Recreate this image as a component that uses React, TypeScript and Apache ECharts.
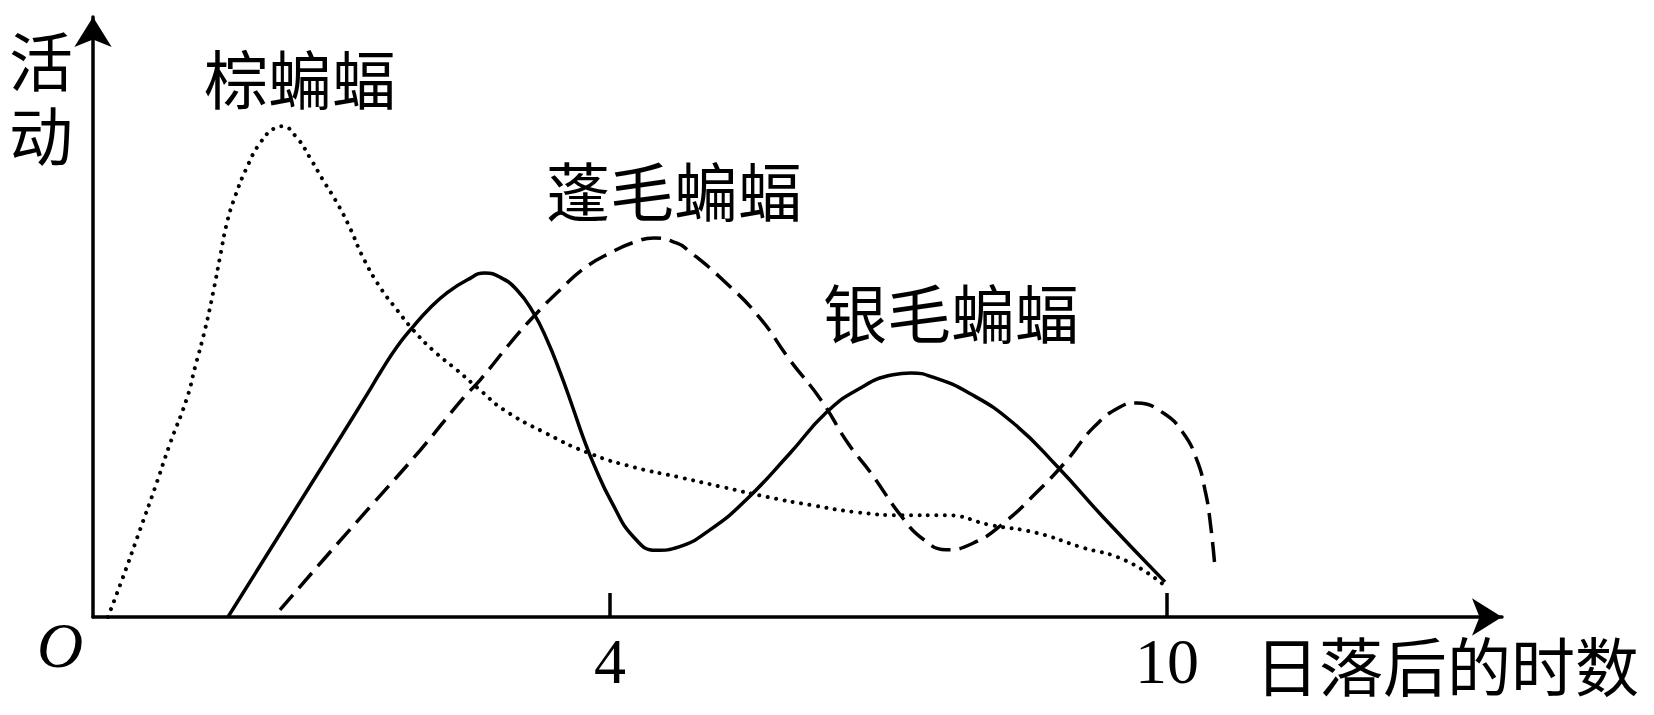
import React, { useEffect, useRef } from "react";
import * as echarts from "echarts";

// 棕蝙蝠 (dotted)
const brownX = [-1.408, -1.246, -1.063, -0.901, -0.74, -0.557, -0.47, -0.363, -0.276, -0.201, -0.126, -0.04, 0.09, 0.23, 0.391, 0.467, 0.628, 0.768, 0.908, 1.059, 1.199, 1.339, 1.522, 1.706, 1.878, 2.093, 2.352, 2.6, 2.858, 3.3, 3.774, 4.259, 4.743, 5.217, 5.702, 6.176, 6.661, 7.145, 7.619, 8.104, 8.589, 9.063, 9.548, 9.957];
const brownY = [0, 6.8, 14.9, 22.1, 29.6, 37.4, 42.7, 49.1, 55.4, 61.5, 67.4, 71.8, 76.9, 81.0, 83.6, 83.9, 81.9, 78.5, 74.7, 70.8, 66.5, 61.5, 56.4, 52.5, 49.1, 45.6, 42.2, 38.8, 35.4, 31.5, 28.0, 25.6, 23.9, 22.2, 20.5, 19.1, 17.9, 17.4, 17.4, 15.7, 14.4, 12.0, 9.7, 5.6];

// 蓬毛蝙蝠 (dashed)
const hoaryX = [0.445, 0.908, 1.414, 1.955, 2.418, 2.6, 2.956, 3.203, 3.461, 3.731, 4.022, 4.269, 4.474, 4.722, 4.84, 5.217, 5.605, 5.939, 6.273, 6.564, 6.812, 7.145, 7.382, 7.619, 7.91, 8.244, 8.589, 8.923, 9.214, 9.494, 9.677, 9.957, 10.173, 10.323, 10.41, 10.463, 10.517];
const hoaryY = [1.2, 9.7, 18.8, 28.5, 37.4, 40.5, 47.4, 51.8, 55.9, 59.7, 62.4, 64.1, 64.8, 63.9, 62.7, 57.6, 51.3, 43.9, 37.1, 29.7, 24.6, 17.1, 13.2, 11.5, 12.6, 16.1, 21.2, 26.8, 32.5, 35.9, 36.6, 34.9, 31.5, 26.8, 21.7, 16.6, 8.5];

// 银毛蝙蝠 (solid)
const silverX = [-0.115, 0.37, 0.768, 1.092, 1.393, 1.522, 1.706, 1.878, 2.061, 2.244, 2.46, 2.653, 2.815, 2.998, 3.171, 3.321, 3.461, 3.591, 3.709, 3.828, 4.022, 4.259, 4.496, 4.743, 5.077, 5.465, 5.939, 6.327, 6.661, 7.049, 7.243, 7.479, 7.867, 8.341, 8.826, 9.311, 9.979];
const silverY = [0, 12.3, 22.4, 30.6, 38.3, 41.7, 46.2, 49.6, 52.8, 55.4, 57.6, 58.8, 58.1, 55.9, 52.1, 47.4, 41.9, 36.2, 30.8, 26.0, 19.5, 13.6, 11.4, 12.0, 14.9, 20.0, 28.0, 34.9, 38.8, 41.4, 41.7, 41.0, 38.3, 33.2, 25.6, 17.1, 6.0];

const xTickValues = [4, 10];
const seriesNames = ["棕蝙蝠", "蓬毛蝙蝠", "银毛蝙蝠"];
const yAxisName = "活动";
const xAxisName = "日落后的时数";
const originLabel = "O";

const zip = (xs: number[], ys: number[]) => xs.map((x, i) => [x, ys[i]]);

const CJK = '"Liberation Serif", "Noto Sans CJK SC", serif';

export default function App() {
  const ref = useRef<HTMLDivElement>(null);
  useEffect(() => {
    if (!ref.current) return;
    const chart = echarts.init(ref.current, null, { renderer: "svg" });
    const axisLineBase = {
      show: true,
      onZero: false,
      symbol: ["none", "arrow"],
      symbolSize: [28, 30],
      lineStyle: { color: "#000", width: 3.5 },
    };
    const textEl = (text: string, x: number, y: number, extra: any = {}) => ({
      type: "text",
      x,
      y,
      style: {
        text,
        fill: "#000",
        fontSize: 64,
        fontFamily: CJK,
        align: "center",
        verticalAlign: "middle",
        textAlign: "center",
        textVerticalAlign: "middle",
        ...extra,
      },
    });
    chart.setOption({
      animation: false,
      backgroundColor: "#fff",
      grid: {
        left: 93,
        top: 17,
        width: 1409,
        height: 600,
        containLabel: false,
        outerBoundsMode: "none",
      },
      xAxis: {
        type: "value",
        min: -1.569,
        max: 13.609,
        axisLine: axisLineBase,
        axisTick: {
          show: true,
          inside: true,
          length: 24,
          customValues: xTickValues,
          lineStyle: { color: "#000", width: 3.5 },
        },
        axisLabel: {
          show: true,
          customValues: xTickValues,
          margin: 12,
          color: "#000",
          fontSize: 64,
          fontFamily: '"Liberation Serif", serif',
        },
        splitLine: { show: false },
      },
      yAxis: {
        type: "value",
        min: 0,
        max: 102.56,
        axisLine: axisLineBase,
        axisTick: { show: false },
        axisLabel: { show: false },
        splitLine: { show: false },
      },
      series: [
        {
          name: seriesNames[0],
          type: "line",
          smooth: 0.5,
          symbol: "none",
          data: zip(brownX, brownY),
          lineStyle: { color: "#000", width: 4, type: [0.01, 8.5], cap: "round" },
        },
        {
          name: seriesNames[1],
          type: "line",
          smooth: 0.5,
          symbol: "none",
          data: zip(hoaryX, hoaryY),
          lineStyle: { color: "#000", width: 3.5, type: [20, 9] },
        },
        {
          name: seriesNames[2],
          type: "line",
          smooth: 0.5,
          symbol: "none",
          data: zip(silverX, silverY),
          lineStyle: { color: "#000", width: 3.5 },
        },
      ],
      graphic: [
        textEl(yAxisName.split("").join("\n"), 41, 101, { lineHeight: 74 }),
        textEl(seriesNames[0], 300, 82),
        textEl(seriesNames[1], 674, 194),
        textEl(seriesNames[2], 951, 316),
        textEl(xAxisName, 1447, 669),
        textEl(originLabel, 60, 645, { fontStyle: "italic", fontFamily: '"Liberation Serif", serif' }),
      ],
    });
    return () => chart.dispose();
  }, []);
  return (
    <div
      ref={ref}
      style={{ position: "fixed", left: 0, top: 0, width: 1654, height: 715, background: "#fff" }}
    />
  );
}
